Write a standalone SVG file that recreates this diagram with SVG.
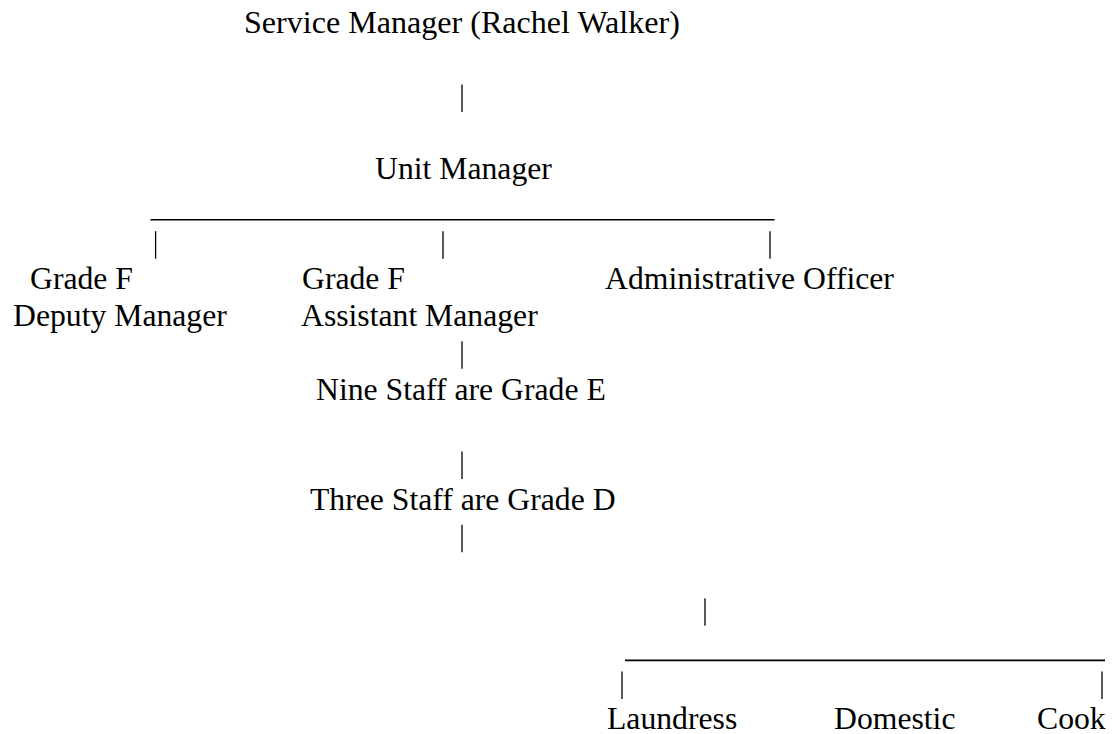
<svg xmlns="http://www.w3.org/2000/svg" width="1118" height="734" viewBox="0 0 1118 734">
<style>
text{font-family:"Liberation Serif","Times New Roman",serif;font-size:31.7px;fill:#000}
text.t{font-size:32.1px}
.c line{stroke:#000;stroke-width:1.3}
.c line.h{stroke-width:1.6}
</style>
<rect width="1118" height="734" fill="#fff"/>
<g id="service-manager"><text class="t" x="244" y="32.5">Service Manager (Rachel Walker)</text></g>
<g id="unit-manager"><text x="375" y="179.3">Unit Manager</text></g>
<g id="deputy-manager"><text x="30" y="289.4">Grade F</text><text x="13" y="326.1">Deputy Manager</text></g>
<g id="assistant-manager"><text x="302" y="289.4">Grade F</text><text x="301" y="326.1">Assistant Manager</text></g>
<g id="administrative-officer"><text x="605" y="289.4">Administrative Officer</text></g>
<g id="grade-e"><text x="316" y="399.5">Nine Staff are Grade E</text></g>
<g id="grade-d"><text x="310" y="509.6">Three Staff are Grade D</text></g>
<g id="laundress"><text x="607" y="729.3">Laundress</text></g>
<g id="domestic"><text x="834" y="729.3">Domestic</text></g>
<g id="cook"><text x="1037" y="729.3">Cook</text></g>
<g id="connectors" class="c">
<line x1="462" y1="84.4" x2="462" y2="111.9"/>
<line class="h" x1="150.5" y1="219.7" x2="774.5" y2="219.7"/>
<line x1="155.6" y1="231.2" x2="155.6" y2="258.7"/>
<line x1="443" y1="231.2" x2="443" y2="258.7"/>
<line x1="770" y1="231.2" x2="770" y2="258.7"/>
<line x1="462" y1="341.3" x2="462" y2="368.8"/>
<line x1="462" y1="451.4" x2="462" y2="478.9"/>
<line x1="462" y1="524.8" x2="462" y2="552.3"/>
<line x1="705" y1="598.2" x2="705" y2="625.7"/>
<line class="h" x1="625" y1="660.4" x2="1105" y2="660.4"/>
<line x1="622" y1="671.6" x2="622" y2="699.1"/>
<line x1="1102" y1="671.6" x2="1102" y2="699.1"/>
</g>
</svg>
